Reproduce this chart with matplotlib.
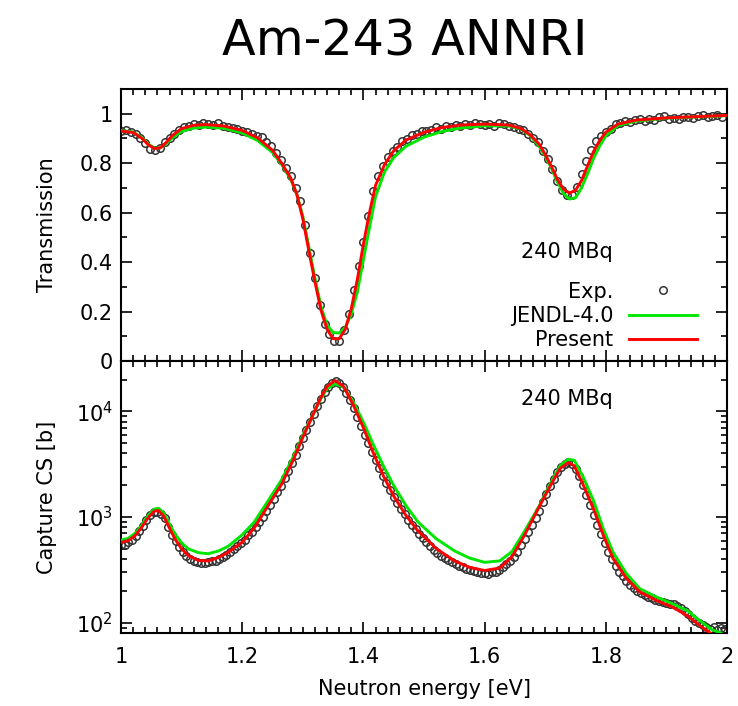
import numpy as np
import matplotlib
matplotlib.use("Agg")
import matplotlib.pyplot as plt
from matplotlib.ticker import MultipleLocator, FuncFormatter, LogLocator

# ---- transmission panel ----
E_TR = [1.00, 1.02, 1.035, 1.045, 1.055, 1.065, 1.075, 1.085, 1.10, 1.12,
        1.14, 1.17, 1.20, 1.225, 1.25, 1.265, 1.28, 1.29, 1.30, 1.31,
        1.32, 1.33, 1.34, 1.35, 1.36, 1.37, 1.38, 1.39, 1.40, 1.41,
        1.42, 1.435, 1.45, 1.47, 1.50, 1.53, 1.56, 1.60, 1.64, 1.66,
        1.675, 1.69, 1.70, 1.71, 1.72, 1.73, 1.74, 1.75, 1.76, 1.77,
        1.78, 1.79, 1.80, 1.82, 1.85, 1.90, 1.95, 2.00]
TR_PRESENT = [0.930, 0.924, 0.899, 0.874, 0.859, 0.862, 0.885, 0.912, 0.940, 0.953,
              0.956, 0.950, 0.932, 0.903, 0.852, 0.800, 0.740, 0.675, 0.575, 0.445,
              0.320, 0.205, 0.128, 0.090, 0.090, 0.128, 0.212, 0.330, 0.473, 0.600,
              0.710, 0.795, 0.850, 0.893, 0.925, 0.944, 0.954, 0.958, 0.954, 0.940,
              0.915, 0.877, 0.835, 0.788, 0.735, 0.695, 0.679, 0.690, 0.730, 0.790,
              0.848, 0.892, 0.925, 0.958, 0.974, 0.983, 0.988, 0.993]
TR_JENDL = [0.932, 0.926, 0.902, 0.877, 0.861, 0.862, 0.880, 0.903, 0.928, 0.942,
            0.946, 0.941, 0.922, 0.892, 0.843, 0.795, 0.735, 0.675, 0.585, 0.460,
            0.335, 0.220, 0.145, 0.115, 0.113, 0.135, 0.190, 0.280, 0.410, 0.540,
            0.665, 0.765, 0.822, 0.868, 0.905, 0.928, 0.942, 0.951, 0.950, 0.938,
            0.912, 0.868, 0.830, 0.780, 0.725, 0.678, 0.655, 0.660, 0.700, 0.758,
            0.820, 0.870, 0.910, 0.952, 0.970, 0.982, 0.987, 0.992]

# experimental points, 0.008 eV bins from 1.000 eV
E_TR_EXP = np.round(np.arange(1.0, 1.9921, 0.008), 3)
TR_EXP = [0.928, 0.935, 0.924, 0.918, 0.902, 0.880, 0.858, 0.852, 0.860, 0.884,
          0.902, 0.918, 0.935, 0.948, 0.952, 0.960, 0.955, 0.962, 0.958, 0.956,
          0.962, 0.950, 0.948, 0.944, 0.940, 0.930, 0.925, 0.918, 0.908, 0.905,
          0.886, 0.868, 0.842, 0.812, 0.780, 0.748, 0.700, 0.648, 0.548, 0.435,
          0.335, 0.225, 0.148, 0.108, 0.080, 0.082, 0.125, 0.190, 0.285, 0.385,
          0.482, 0.585, 0.688, 0.748, 0.790, 0.825, 0.850, 0.866, 0.888, 0.898,
          0.912, 0.918, 0.930, 0.928, 0.935, 0.946, 0.940, 0.950, 0.946, 0.955,
          0.952, 0.958, 0.955, 0.962, 0.958, 0.955, 0.960, 0.950, 0.962, 0.958,
          0.950, 0.946, 0.940, 0.935, 0.918, 0.902, 0.885, 0.850, 0.815, 0.775,
          0.728, 0.692, 0.672, 0.670, 0.705, 0.755, 0.810, 0.855, 0.890, 0.910,
          0.925, 0.940, 0.958, 0.962, 0.970, 0.968, 0.975, 0.980, 0.970, 0.978,
          0.975, 0.986, 0.990, 0.980, 0.982, 0.978, 0.985, 0.988, 0.983, 0.990,
          0.995, 0.985, 0.992, 0.995, 0.988]

# ---- capture cross section panel (barn) ----
E_CS = [1.00, 1.012, 1.023, 1.034, 1.045, 1.055, 1.062, 1.07, 1.078, 1.089,
        1.10, 1.111, 1.128, 1.144, 1.161, 1.177, 1.20, 1.22, 1.24, 1.265,
        1.285, 1.30, 1.31, 1.32, 1.33, 1.34, 1.353, 1.367, 1.383, 1.40,
        1.416, 1.433, 1.45, 1.47, 1.49, 1.52, 1.55, 1.575, 1.60, 1.625,
        1.645, 1.665, 1.69, 1.71, 1.725, 1.738, 1.748, 1.763, 1.78, 1.796,
        1.812, 1.834, 1.856, 1.884, 1.91, 1.935, 1.955, 1.975, 1.99]
CS_PRESENT = [575, 600, 665, 800, 990, 1140, 1150, 1030, 830, 620,
              500, 432, 388, 385, 415, 465, 580, 790, 1210, 2050,
              3550, 5700, 7600, 10200, 13600, 17200, 19600, 17300, 11600, 7000,
              4080, 2450, 1580, 1040, 740, 505, 385, 335, 312, 330,
              420, 660, 1250, 2050, 2900, 3280, 3050, 2000, 1180, 670,
              405, 262, 196, 162, 141, 116, 94, 78, 70]
CS_JENDL = [605, 630, 700, 835, 1040, 1190, 1210, 1100, 900, 690,
            570, 500, 460, 450, 478, 530, 680, 900, 1350, 2250,
            3800, 5900, 7700, 10200, 13300, 16400, 18200, 17000, 12300, 7900,
            4900, 3050, 1990, 1290, 900, 625, 480, 410, 373, 385,
            470, 720, 1270, 2150, 3080, 3520, 3450, 2370, 1420, 770,
            465, 292, 210, 175, 151, 130, 105, 86, 80]

# experimental points, 0.006 eV bins from 1.000 eV
E_CS_EXP = np.round(np.arange(1.0, 1.9961, 0.006), 3)
CS_EXP = [540, 548, 575, 610, 665, 740, 830, 930, 1040, 1110,
          1120, 1080, 970, 810, 680, 590, 520, 470, 430, 405,
          380, 372, 368, 370, 372, 380, 385, 398, 420, 440,
          470, 500, 530, 565, 610, 670, 730, 800, 900, 1010,
          1140, 1300, 1480, 1720, 1980, 2330, 2750, 3250, 3900, 4700,
          5600, 6700, 8000, 9500, 11300, 13200, 15300, 17200, 18700, 19200,
          18500, 17000, 14900, 12700, 10700, 8800, 7300, 6000, 5000, 4150,
          3450, 2900, 2450, 2100, 1800, 1560, 1360, 1190, 1060, 945,
          850, 765, 690, 628, 575, 530, 492, 460, 432, 410,
          390, 372, 357, 345, 334, 325, 318, 310, 303, 296,
          295, 288, 300, 305, 318, 335, 360, 385, 420, 470,
          540, 620, 720, 840, 980, 1150, 1380, 1650, 1950, 2300,
          2650, 2950, 3200, 3300, 3150, 2850, 2450, 2000, 1620, 1300,
          1050, 850, 690, 570, 470, 400, 345, 305, 275, 250,
          228, 212, 200, 190, 182, 176, 170, 165, 162, 158,
          155, 150, 152, 145, 138, 128, 120, 112, 104, 100,
          95, 92, 88, 92, 86, 90, 88]

GREEN = "#00e600"
RED = "#ff0000"
FS = 15

plt.rcParams["font.family"] = ["DejaVu Sans"]
plt.rcParams["mathtext.fontset"] = "dejavusans"

fig = plt.figure(figsize=(7.38, 7.06), dpi=100)
ax1 = fig.add_axes([0.164, 0.4887, 0.8211, 0.3853])
ax2 = fig.add_axes([0.164, 0.1034, 0.8211, 0.3853])

def draw(ax, e_exp, y_exp, e, y_j, y_p):
    ax.plot(e_exp, y_exp, "o", mfc="none", mec="#333333", ms=5.4, mew=1.1,
            label="Exp.", zorder=2)
    ax.plot(e, y_j, color=GREEN, lw=2.1, label="JENDL-4.0", zorder=3)
    ax.plot(e, y_p, color=RED, lw=2.1, label="Present", zorder=4)

draw(ax1, E_TR_EXP, TR_EXP, E_TR, TR_JENDL, TR_PRESENT)
draw(ax2, E_CS_EXP, CS_EXP, E_CS, CS_JENDL, CS_PRESENT)

fmt = FuncFormatter(lambda v, p: "%g" % v)
for ax in (ax1, ax2):
    ax.set_xlim(1.0, 2.0)
    ax.xaxis.set_major_locator(MultipleLocator(0.2))
    ax.xaxis.set_minor_locator(MultipleLocator(0.02))
    ax.xaxis.set_major_formatter(fmt)
    ax.tick_params(which="both", direction="in", top=True, right=True,
                   labelsize=FS, width=1.2)
    ax.tick_params(which="major", length=8)
    ax.tick_params(which="minor", length=4)
    ax.tick_params(axis="y", which="major", pad=6)
    ax.tick_params(axis="x", which="major", pad=10)
    for s in ax.spines.values():
        s.set_linewidth(1.5)

ax1.set_ylim(0, 1.1)
ax1.yaxis.set_major_locator(MultipleLocator(0.2))
ax1.yaxis.set_minor_locator(MultipleLocator(0.1))
ax1.yaxis.set_major_formatter(fmt)
ax1.tick_params(labelbottom=False)
ax1.set_ylabel("Transmission", fontsize=FS)
ax1.yaxis.set_label_coords(-0.106, 0.5)

ax2.set_yscale("log")
ax2.set_ylim(80, 30000)
ax2.yaxis.set_major_locator(LogLocator(base=10))
ax2.yaxis.set_minor_locator(LogLocator(base=10, subs=np.arange(2, 10)))
ax2.set_ylabel("Capture CS [b]", fontsize=FS)
ax2.yaxis.set_label_coords(-0.106, 0.5)
ax2.set_xlabel("Neutron energy [eV]", fontsize=FS)
ax2.xaxis.set_label_coords(0.5, -0.17)

ax1.text(0.736, 0.401, "240 MBq", transform=ax1.transAxes, fontsize=FS,
         ha="center", va="center")
ax2.text(0.736, 0.86, "240 MBq", transform=ax2.transAxes, fontsize=FS,
         ha="center", va="center")

ax1.legend(loc="lower right", bbox_to_anchor=(0.950, 0.040), frameon=False,
           markerfirst=False, fontsize=FS, handlelength=3.27, handletextpad=0.72,
           labelspacing=0.2, borderpad=0, borderaxespad=0)

fig.text(0.549, 0.922, "Am-243 ANNRI", fontsize=35.5, ha="center", va="baseline")

fig.savefig("out.png", dpi=100)
